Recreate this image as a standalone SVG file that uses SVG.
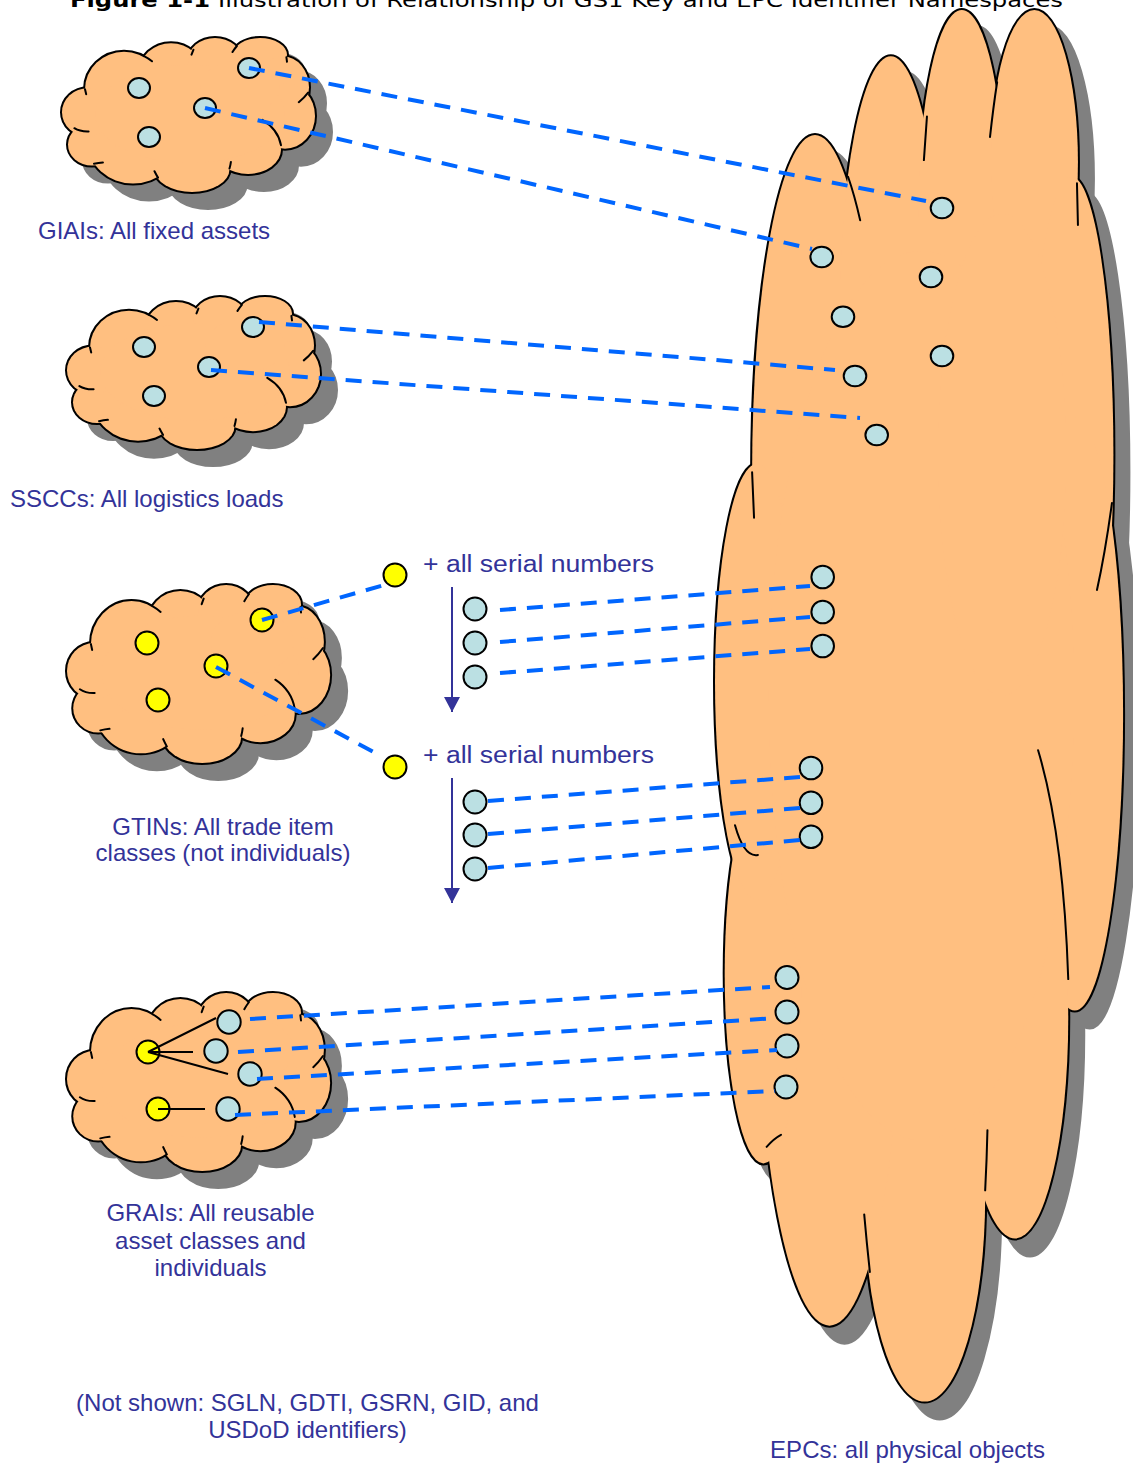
<svg xmlns="http://www.w3.org/2000/svg" width="1133" height="1463" viewBox="0 0 1133 1463">
<style>
.shadow{fill:#808080;stroke:#808080;stroke-width:4}
.outline{fill:none;stroke:#000;stroke-width:4}
.body{fill:#FFBF80;stroke:none}
.ticks{fill:none;stroke:#000;stroke-width:2;stroke-linecap:round}
.blue{fill:#BBE0E3;stroke:#000;stroke-width:2}
.yel{fill:#FFFF00;stroke:#000;stroke-width:2}
.lbl{font-family:"Liberation Sans",Arial,sans-serif;font-size:24px;fill:#333399}
.ser{font-family:"Liberation Sans",Arial,sans-serif;font-size:23px;fill:#333399}
.title{font-family:"DejaVu Sans",Verdana,sans-serif;font-size:20px;fill:#000}
.dash{fill:none;stroke:#0066FF;stroke-width:4;stroke-dasharray:16 11}
.solid{fill:none;stroke:#000;stroke-width:2}
.arrow{fill:none;stroke:#333399;stroke-width:2;marker-end:url(#ah)}
</style>
<defs>
<marker id="ah" viewBox="0 0 15 16" refX="15" refY="8" markerWidth="15" markerHeight="16" markerUnits="userSpaceOnUse" orient="auto">
<path d="M0,0 L15,8 L0,16 Z" fill="#333399"/>
</marker>
<g id="cb">
<ellipse cx="124" cy="88" rx="39" ry="36.5" vector-effect="non-scaling-stroke"/>
<ellipse cx="171" cy="72" rx="32" ry="29" vector-effect="non-scaling-stroke"/>
<ellipse cx="215" cy="60" rx="27" ry="22" vector-effect="non-scaling-stroke"/>
<ellipse cx="260" cy="54.4" rx="27" ry="16.4" vector-effect="non-scaling-stroke"/>
<ellipse cx="283" cy="86" rx="26" ry="30" vector-effect="non-scaling-stroke"/>
<ellipse cx="285" cy="114" rx="30" ry="32" vector-effect="non-scaling-stroke"/>
<ellipse cx="248" cy="146.8" rx="33" ry="23.8" vector-effect="non-scaling-stroke"/>
<ellipse cx="192" cy="166" rx="37.5" ry="22.2" vector-effect="non-scaling-stroke"/>
<ellipse cx="133" cy="140" rx="45" ry="40" vector-effect="non-scaling-stroke"/>
<ellipse cx="92" cy="142" rx="24" ry="20.5" vector-effect="non-scaling-stroke"/>
<ellipse cx="88" cy="110.5" rx="26" ry="23.5" vector-effect="non-scaling-stroke"/>
<ellipse cx="190" cy="112" rx="95" ry="48" vector-effect="non-scaling-stroke"/>
<ellipse cx="240" cy="86" rx="40" ry="26" vector-effect="non-scaling-stroke"/>
</g>
<path id="ct" vector-effect="non-scaling-stroke" d="M85,87.9 L86.2,92.8 M74.4,126 Q80,129.5 88.6,129.2 M94,160.7 Q98.5,159.8 102.9,159.4 M158,174.2 Q156,171 154.5,168 M229.5,165.4 Q230.5,162 230.9,158.9 M281,142.6 Q278,127 262.3,117.9 M308.1,91.2 Q304,96.5 298.8,100.6 M286.4,56.7 L287,61.2 M236.9,45.8 Q234.5,48.5 232.5,51.7 M193.4,49.5 L191.5,54.2 M144.5,56 Q148.5,58 152,60.7"/>
</defs>

<g id="title">
<text class="title" x="70" y="7" font-weight="bold" textLength="140" lengthAdjust="spacingAndGlyphs">Figure 1-1</text>
<text class="title" x="218" y="7" textLength="845" lengthAdjust="spacingAndGlyphs">Illustration of Relationship of GS1 Key and EPC Identifier Namespaces</text>
</g>

<g id="epc-cloud">
<use href="#cb" class="shadow" transform="translate(15,17) matrix(1.613,0,0,9.265,615,-342.07)"/>
<use href="#cb" class="outline" transform="matrix(1.613,0,0,9.265,615,-342.07)"/>
<use href="#cb" class="body" transform="matrix(1.613,0,0,9.265,615,-342.07)"/>
<use href="#ct" class="ticks" transform="matrix(1.613,0,0,9.265,615,-342.07)"/>
<ellipse class="blue" cx="942" cy="208" rx="11.3" ry="10.2"/>
<ellipse class="blue" cx="821.7" cy="257" rx="11.3" ry="10.2"/>
<ellipse class="blue" cx="931" cy="277" rx="11.3" ry="10.2"/>
<ellipse class="blue" cx="843" cy="316.7" rx="11.3" ry="10.2"/>
<ellipse class="blue" cx="942" cy="356" rx="11.3" ry="10.2"/>
<ellipse class="blue" cx="855" cy="376" rx="11.3" ry="10.2"/>
<ellipse class="blue" cx="876.7" cy="435" rx="11.3" ry="10.2"/>
<circle class="blue" cx="822.7" cy="577" r="11.3"/>
<circle class="blue" cx="822.7" cy="612" r="11.3"/>
<circle class="blue" cx="822.7" cy="646" r="11.3"/>
<circle class="blue" cx="811" cy="768" r="11.3"/>
<circle class="blue" cx="811" cy="802.7" r="11.3"/>
<circle class="blue" cx="811" cy="836.7" r="11.3"/>
<circle class="blue" cx="787" cy="977.5" r="11.5"/>
<circle class="blue" cx="787" cy="1012" r="11.5"/>
<circle class="blue" cx="787" cy="1046" r="11.5"/>
<circle class="blue" cx="786" cy="1087" r="11.5"/>
<text class="lbl" x="907.5" y="1458" text-anchor="middle">EPCs: all physical objects</text>
</g>

<g id="giai-cloud">
<use href="#cb" class="shadow" transform="translate(16,16) matrix(1,0,0,1.025,0,-0.95)"/>
<use href="#cb" class="outline" transform="matrix(1,0,0,1.025,0,-0.95)"/>
<use href="#cb" class="body" transform="matrix(1,0,0,1.025,0,-0.95)"/>
<use href="#ct" class="ticks" transform="matrix(1,0,0,1.025,0,-0.95)"/>
<ellipse class="blue" cx="139" cy="88" rx="11" ry="10"/>
<ellipse class="blue" cx="249" cy="68" rx="11" ry="10"/>
<ellipse class="blue" cx="205" cy="108" rx="11" ry="10"/>
<ellipse class="blue" cx="149" cy="137" rx="11" ry="10"/>
<text class="lbl" x="38" y="239">GIAIs: All fixed assets</text>
</g>

<g id="sscc-cloud">
<use href="#cb" class="shadow" transform="translate(16,16) matrix(1,0,0,1.012,5,258.54)"/>
<use href="#cb" class="outline" transform="matrix(1,0,0,1.012,5,258.54)"/>
<use href="#cb" class="body" transform="matrix(1,0,0,1.012,5,258.54)"/>
<use href="#ct" class="ticks" transform="matrix(1,0,0,1.012,5,258.54)"/>
<ellipse class="blue" cx="144" cy="347" rx="11" ry="10"/>
<ellipse class="blue" cx="253" cy="327" rx="11" ry="10"/>
<ellipse class="blue" cx="209" cy="367" rx="11" ry="10"/>
<ellipse class="blue" cx="154" cy="396" rx="11" ry="10"/>
<text class="lbl" x="10" y="507">SSCCs: All logistics loads</text>
</g>

<g id="gtin-cloud">
<use href="#cb" class="shadow" transform="translate(16,16) matrix(1.04,0,0,1.185,2.52,539.97)"/>
<use href="#cb" class="outline" transform="matrix(1.04,0,0,1.185,2.52,539.97)"/>
<use href="#cb" class="body" transform="matrix(1.04,0,0,1.185,2.52,539.97)"/>
<use href="#ct" class="ticks" transform="matrix(1.04,0,0,1.185,2.52,539.97)"/>
<circle class="yel" cx="147" cy="643" r="11.5"/>
<circle class="yel" cx="262" cy="620" r="11.5"/>
<circle class="yel" cx="216" cy="666" r="11.5"/>
<circle class="yel" cx="158" cy="700" r="11.5"/>
<text class="lbl" x="223" y="835" text-anchor="middle">GTINs: All trade item</text>
<text class="lbl" x="223" y="861" text-anchor="middle">classes (not individuals)</text>
</g>

<g id="gtin-serials-1">
<circle class="yel" cx="395" cy="575" r="11.5"/>
<text class="ser" x="423" y="572" textLength="231" lengthAdjust="spacingAndGlyphs">+ all serial numbers</text>
<circle class="blue" cx="475" cy="609" r="11.5"/>
<circle class="blue" cx="475" cy="643" r="11.5"/>
<circle class="blue" cx="475" cy="677" r="11.5"/>
</g>

<g id="gtin-serials-2">
<circle class="yel" cx="395" cy="767" r="11.5"/>
<text class="ser" x="423" y="763" textLength="231" lengthAdjust="spacingAndGlyphs">+ all serial numbers</text>
<circle class="blue" cx="475" cy="802" r="11.5"/>
<circle class="blue" cx="475" cy="835" r="11.5"/>
<circle class="blue" cx="475" cy="869" r="11.5"/>
</g>

<g id="grai-cloud">
<use href="#cb" class="shadow" transform="translate(16,16) matrix(1.04,0,0,1.185,2.52,947.97)"/>
<use href="#cb" class="outline" transform="matrix(1.04,0,0,1.185,2.52,947.97)"/>
<use href="#cb" class="body" transform="matrix(1.04,0,0,1.185,2.52,947.97)"/>
<use href="#ct" class="ticks" transform="matrix(1.04,0,0,1.185,2.52,947.97)"/>
<circle class="yel" cx="148" cy="1052" r="11.5"/>
<circle class="yel" cx="158" cy="1109" r="11.5"/>
<circle class="blue" cx="229" cy="1022" r="11.7"/>
<circle class="blue" cx="216" cy="1051" r="11.7"/>
<circle class="blue" cx="250" cy="1074" r="11.7"/>
<circle class="blue" cx="228" cy="1109" r="11.7"/>
<text class="lbl" x="210.5" y="1221" text-anchor="middle">GRAIs: All reusable</text>
<text class="lbl" x="210.5" y="1248.5" text-anchor="middle">asset classes and</text>
<text class="lbl" x="210.5" y="1276" text-anchor="middle">individuals</text>
</g>

<g id="note">
<text class="lbl" x="307.5" y="1411" text-anchor="middle">(Not shown: SGLN, GDTI, GSRN, GID, and</text>
<text class="lbl" x="307.5" y="1438" text-anchor="middle">USDoD identifiers)</text>
</g>

<g id="connectors">
<line class="dash" x1="249" y1="68" x2="926" y2="201"/>
<line class="dash" x1="205" y1="108" x2="812" y2="249"/>
<line class="dash" x1="259" y1="322" x2="835" y2="370"/>
<line class="dash" x1="211" y1="370" x2="860" y2="418"/>
<line class="dash" x1="262" y1="620" x2="384" y2="585"/>
<line class="dash" x1="216" y1="667" x2="379" y2="755"/>
<line class="dash" x1="500" y1="610" x2="810" y2="586"/>
<line class="dash" x1="500" y1="642" x2="810" y2="617"/>
<line class="dash" x1="500" y1="673" x2="810" y2="649"/>
<line class="dash" x1="488" y1="801" x2="800" y2="777"/>
<line class="dash" x1="488" y1="834" x2="800" y2="808"/>
<line class="dash" x1="488" y1="868" x2="800" y2="840"/>
<line class="dash" x1="250" y1="1019" x2="770" y2="987"/>
<line class="dash" x1="238" y1="1052" x2="777" y2="1018"/>
<line class="dash" x1="257" y1="1079" x2="777" y2="1050"/>
<line class="dash" x1="235" y1="1115" x2="775" y2="1091"/>
<line class="solid" x1="148" y1="1052" x2="216" y2="1018"/>
<line class="solid" x1="148" y1="1052" x2="193" y2="1052"/>
<line class="solid" x1="148" y1="1052" x2="228" y2="1074"/>
<line class="solid" x1="158" y1="1109" x2="205" y2="1109"/>
<line class="arrow" x1="452" y1="587" x2="452" y2="712"/>
<line class="arrow" x1="452" y1="778" x2="452" y2="903"/>
</g>
</svg>
